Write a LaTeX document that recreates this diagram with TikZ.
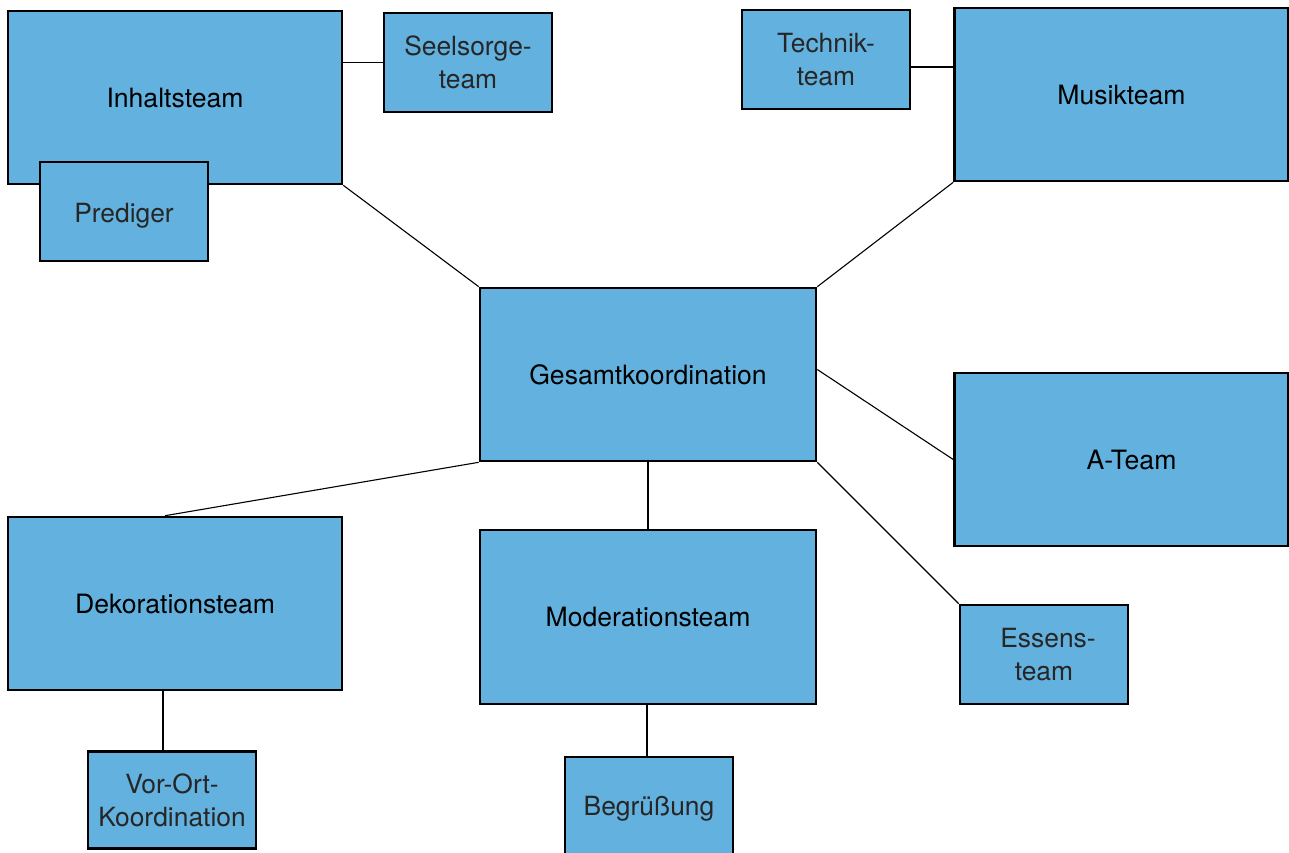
\documentclass[tikz,border=0pt]{standalone}
\usepackage{fontspec}
\setmainfont{TeX Gyre Heros}
\definecolor{boxblue}{RGB}{99,177,222}
\begin{document}
\begin{tikzpicture}[x=1pt,y=-1pt,
  box/.style={draw=black, fill=boxblue, line width=2.6pt, inner sep=0pt, align=center},
  big/.style={box, minimum width=334pt, minimum height=173pt, font=\fontsize{26.6}{32}\selectfont},
  small/.style={box, minimum width=168pt, minimum height=99pt, font=\fontsize{26.4}{33}\selectfont, text=black!85},
  conn/.style={draw=black, line width=1.1pt}]
\useasboundingbox (0,0) rectangle (1289,852);
\fill[white] (0,0) rectangle (1289,852);
% main boxes
\node[big] (inh) at (175,97.5) {Inhaltsteam};
\node[big] (mus) at (1121.5,94.5) {Musikteam};
\node[big, minimum width=336pt] (ges) at (648,374.5) {Gesamtkoordination};
\node[big] (ate) at (1121.5,459.5) {\hspace*{20pt}A-Team};
\node[big] (dek) at (175,603.5) {Dekorationsteam};
\node[big, minimum width=336pt, minimum height=174pt] (mod) at (648,617) {Moderationsteam};
% small boxes
\node[small] (see) at (468,62.5) {Seelsorge-\\team};
\node[small, text height=26pt, text depth=5pt] (pre) at (124,211.5) {Prediger};
\node[small] (tec) at (826,59.5) {Technik-\\team};
\node[small] (ess) at (1044,654.5) {\hspace*{8pt}Essens-\\team};
\node[small, minimum height=97pt] (vor) at (172,800) {Vor-Ort-\\Koordination};
\node[small, minimum height=104pt] (beg) at (649,809) {Begrüßung};
% connectors
\draw[conn] (see.west) -- (see.west -| inh.east);
\draw[conn] ([yshift=-7.5pt]tec.east) -- ([yshift=-7.5pt]tec.east -| mus.west);
\draw[conn] (inh.south east) -- (ges.north west);
\draw[conn] (mus.south west) -- (ges.north east);
\draw[conn] ([yshift=5pt]ges.east) -- (ate.west);
\draw[conn] (ges.south east) -- (ess.north west);
\draw[conn] (ges.south west) -- ([xshift=-10pt]dek.north);
\draw[conn] (ges.south) -- (ges.south |- mod.north);
\draw[conn] ([xshift=-12pt]dek.south) -- ([xshift=-12pt]dek.south |- vor.north);
\draw[conn] ([xshift=-1pt]mod.south) -- ([xshift=-1pt]mod.south |- beg.north);
\end{tikzpicture}
\end{document}
